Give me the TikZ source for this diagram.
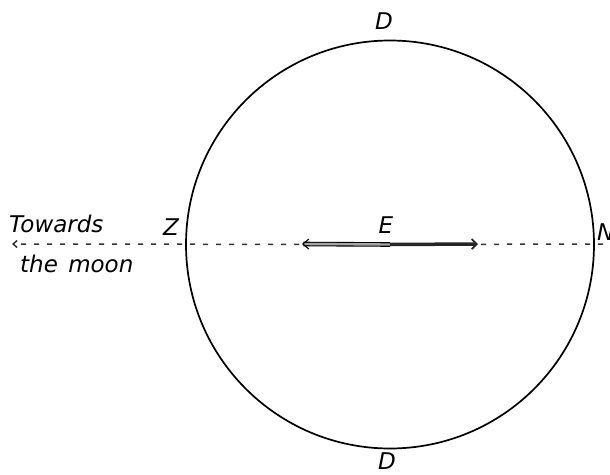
\documentclass[tikz,border=0pt]{standalone}
\usepackage{fontspec}
\setmainfont{DejaVu Sans}
\usetikzlibrary{arrows.meta}
\begin{document}
\begin{tikzpicture}[x=1pt,y=-1pt,
  lbl/.style={font=\itshape\fontsize{23}{25}\selectfont, inner sep=0pt},
  axis/.style={dash pattern=on 5pt off 8pt, line width=1.5pt, black!80},
  outarrow/.style={line width=1.1pt, double=black!35, double distance=2.4pt, -{Straight Barb[length=6pt,width=10pt]}},
  darkarrow/.style={line width=3.5pt, black!85, -{Straight Barb[length=5pt,width=10pt,line width=1.8pt]}}]
\useasboundingbox (0,0) rectangle (610,474);
\coordinate (C) at (390,244.5);
\draw[line width=1.7pt] (C) circle[radius=204];
\coordinate (far) at (12,244);
\coordinate (right) at (612,244);
\draw[axis] (C) -- (right);
\draw[axis, -{Straight Barb[length=4pt,width=7pt]}] (C) -- (far);
\coordinate (L) at (302,244);
\coordinate (R) at (478,244);
\draw[outarrow] (C) -- (L);
\draw[darkarrow] (C) -- (R);
\node[lbl] (E) at (386,225) {E};
\node[lbl] (Z) at (171,227) {Z};
\node[lbl, anchor=west] (N) at (597,232) {N};
\node[lbl] (Dt) at (384,21) {D};
\node[lbl] (Db) at (387,461) {D};
\node[lbl, anchor=west] (tw) at (9,224) {Towards};
\node[lbl, anchor=west] (moon) at (20,264) {the\hspace{0.45em}moon};
\end{tikzpicture}
\end{document}
